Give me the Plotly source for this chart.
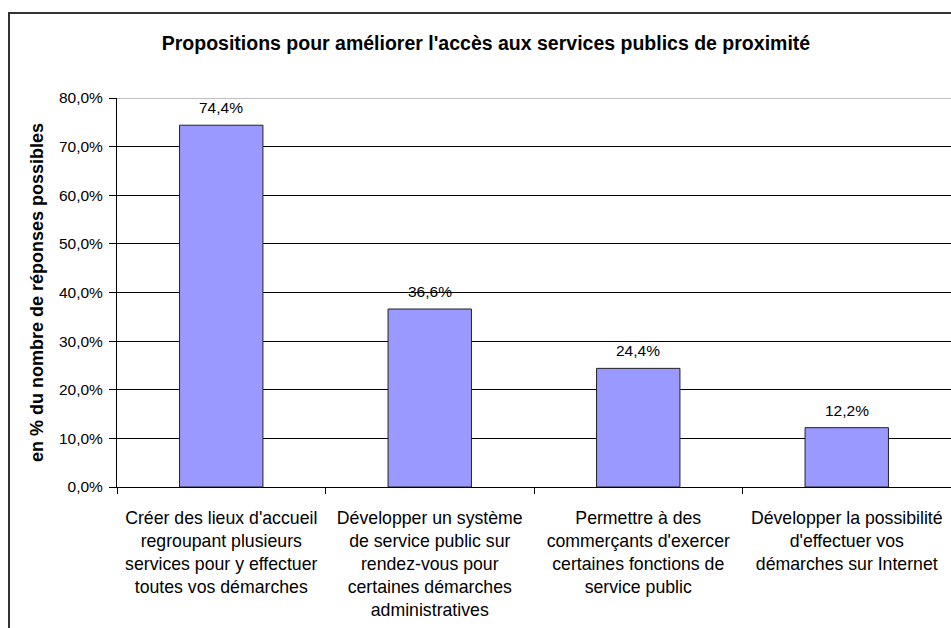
import plotly.graph_objects as go

# Survey answers: share of possible responses for each proposal
categories = [
    "Créer des lieux d'accueil<br>regroupant plusieurs<br>services pour y effectuer<br>toutes vos démarches",
    "Développer un système<br>de service public sur<br>rendez-vous pour<br>certaines démarches<br>administratives",
    "Permettre à des<br>commerçants d'exercer<br>certaines fonctions de<br>service public",
    "Développer la possibilité<br>d'effectuer vos<br>démarches sur Internet",
]
values = [74.4, 36.6, 24.4, 12.2]
y_ticks = [0, 10, 20, 30, 40, 50, 60, 70, 80]

title_text = "Propositions pour améliorer l'accès aux services publics de proximité"
y_title = "en % du nombre de réponses possibles"

FONT = "Liberation Sans, Arial, sans-serif"


def pct(v):
    """French-style percentage with one decimal, e.g. 74,4%."""
    return f"{v:.1f}".replace(".", ",") + "%"


fig = go.Figure()
fig.add_trace(go.Bar(
    x=categories,
    y=values,
    marker=dict(color="#9999FF", line=dict(color="#222222", width=1)),
    showlegend=False,
    hoverinfo="skip",
))

# value labels above each bar
for cat, val in zip(categories, values):
    fig.add_annotation(
        x=cat, y=val, xref="x", yref="y",
        text=pct(val),
        showarrow=False, yanchor="bottom", yshift=7,
        font=dict(family=FONT, size=15.5, color="#000000"),
    )

fig.update_layout(
    width=951, height=628,
    margin=dict(l=117, r=0, t=98, b=141, pad=0),
    paper_bgcolor="white", plot_bgcolor="white",
    bargap=0.6,
    title=dict(
        text=title_text,
        font=dict(family=FONT, size=19.5, color="#000000", weight="bold"),
        xref="paper", x=0.4424, xanchor="center",
        yref="container", y=1 - 43 / 628, yanchor="middle",
    ),
    font=dict(family=FONT, color="#000000"),
)

fig.update_xaxes(
    type="category",
    showgrid=False,
    showline=True, linecolor="#000000", linewidth=1,
    ticks="outside", tickson="boundaries", ticklen=6,
    tickcolor="#000000", tickwidth=1,
    tickfont=dict(family=FONT, size=17.7, color="#000000"),
    tickangle=0,
    ticklabelstandoff=15,
)

fig.update_yaxes(
    range=[0, 80],
    tickvals=y_ticks,
    ticktext=[pct(v) for v in y_ticks],
    showgrid=True, gridcolor="#000000", gridwidth=1,
    showline=True, linecolor="#000000", linewidth=1,
    ticks="outside", ticklen=7, tickcolor="#000000", tickwidth=1,
    tickfont=dict(family=FONT, size=15.5, color="#000000"),
    ticklabelstandoff=3,
    zeroline=False,
    title=dict(
        text=y_title,
        font=dict(family=FONT, size=18, color="#000000", weight="bold"),
        standoff=10,
    ),
)

# grey upper edge of the plot area
fig.add_shape(type="line", xref="paper", yref="y", x0=0, x1=1, y0=80, y1=80,
              line=dict(color="#808080", width=1), layer="above")

# outer chart frame (continues past the right and bottom edges)
plot_w, plot_h = 834, 389
fig.add_shape(
    type="rect", xref="paper", yref="paper",
    x0=(9 - 117) / plot_w, x1=(975 - 117) / plot_w,
    y0=(487 - 660) / plot_h, y1=(487 - 13) / plot_h,
    line=dict(color="#333333", width=2), fillcolor="rgba(0,0,0,0)",
    layer="above",
)

fig.write_html("out.html")
